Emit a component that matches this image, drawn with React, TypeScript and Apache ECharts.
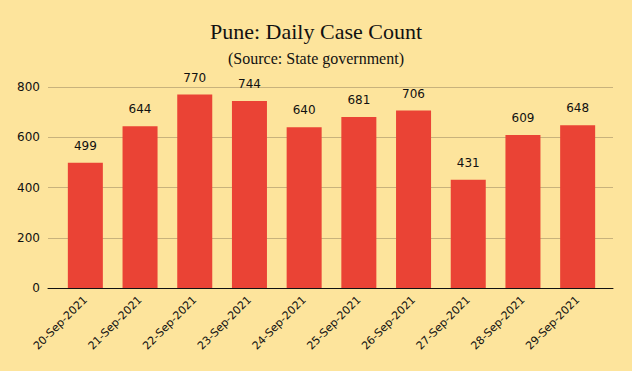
import React, { useEffect, useRef } from "react";
import * as echarts from "echarts";

const categories = [
  "20-Sep-2021", "21-Sep-2021", "22-Sep-2021", "23-Sep-2021", "24-Sep-2021",
  "25-Sep-2021", "26-Sep-2021", "27-Sep-2021", "28-Sep-2021", "29-Sep-2021",
];
const cases = [499, 644, 770, 744, 640, 681, 706, 431, 609, 648];
const yTicks = [0, 200, 400, 600, 800];

export default function App() {
  const ref = useRef<HTMLDivElement>(null);
  useEffect(() => {
    const chart = echarts.init(ref.current!, null, { renderer: "svg" });
    const yMin = yTicks[0];
    const yMax = yTicks[yTicks.length - 1];
    chart.setOption({
      animation: false,
      backgroundColor: "#FDE49C",
      title: {
        text: "Pune: Daily Case Count",
        subtext: "(Source: State government)",
        left: "center",
        top: 15,
        itemGap: 8,
        textStyle: { fontFamily: "Liberation Serif", fontSize: 22, fontWeight: "normal", color: "#111" },
        subtextStyle: { fontFamily: "Liberation Serif", fontSize: 16, color: "#111" },
      },
      grid: [
        { left: 48, right: 19, top: 87, bottom: 83 },
        { left: 58, right: 27, top: 87, bottom: 83 },
      ],
      xAxis: [
        {
          gridIndex: 0,
          type: "value",
          min: 0,
          max: 1,
          axisLine: { show: true, onZero: false, lineStyle: { color: "#111" } },
          axisTick: { show: false },
          axisLabel: { show: false },
          splitLine: { show: false },
        },
        {
          gridIndex: 1,
          type: "category",
          data: categories,
          axisLine: { show: false },
          axisTick: { show: false },
          axisLabel: { rotate: 45, color: "#111", fontFamily: "DejaVu Sans", fontSize: 11, margin: 10 },
        },
      ],
      yAxis: [
        {
          gridIndex: 0,
          type: "value",
          min: yMin,
          max: yMax,
          interval: 200,
          axisLine: { show: false },
          axisTick: { show: false },
          splitLine: { lineStyle: { color: "#C8B27C" } },
          axisLabel: { color: "#111", fontFamily: "DejaVu Sans", fontSize: 12, margin: 8 },
        },
        {
          gridIndex: 1,
          type: "value",
          min: yMin,
          max: yMax,
          interval: 200,
          show: false,
          splitLine: { show: false },
        },
      ],
      series: [
        {
          type: "bar",
          xAxisIndex: 1,
          yAxisIndex: 1,
          data: cases,
          barWidth: "64%",
          itemStyle: { color: "#EA4335" },
          label: { show: true, position: "top", distance: 11, color: "#111", fontFamily: "DejaVu Sans", fontSize: 12 },
        },
      ],
    });
    return () => chart.dispose();
  }, []);
  return <div ref={ref} style={{ width: 632, height: 371, position: "absolute", left: 0, top: 0 }} />;
}
